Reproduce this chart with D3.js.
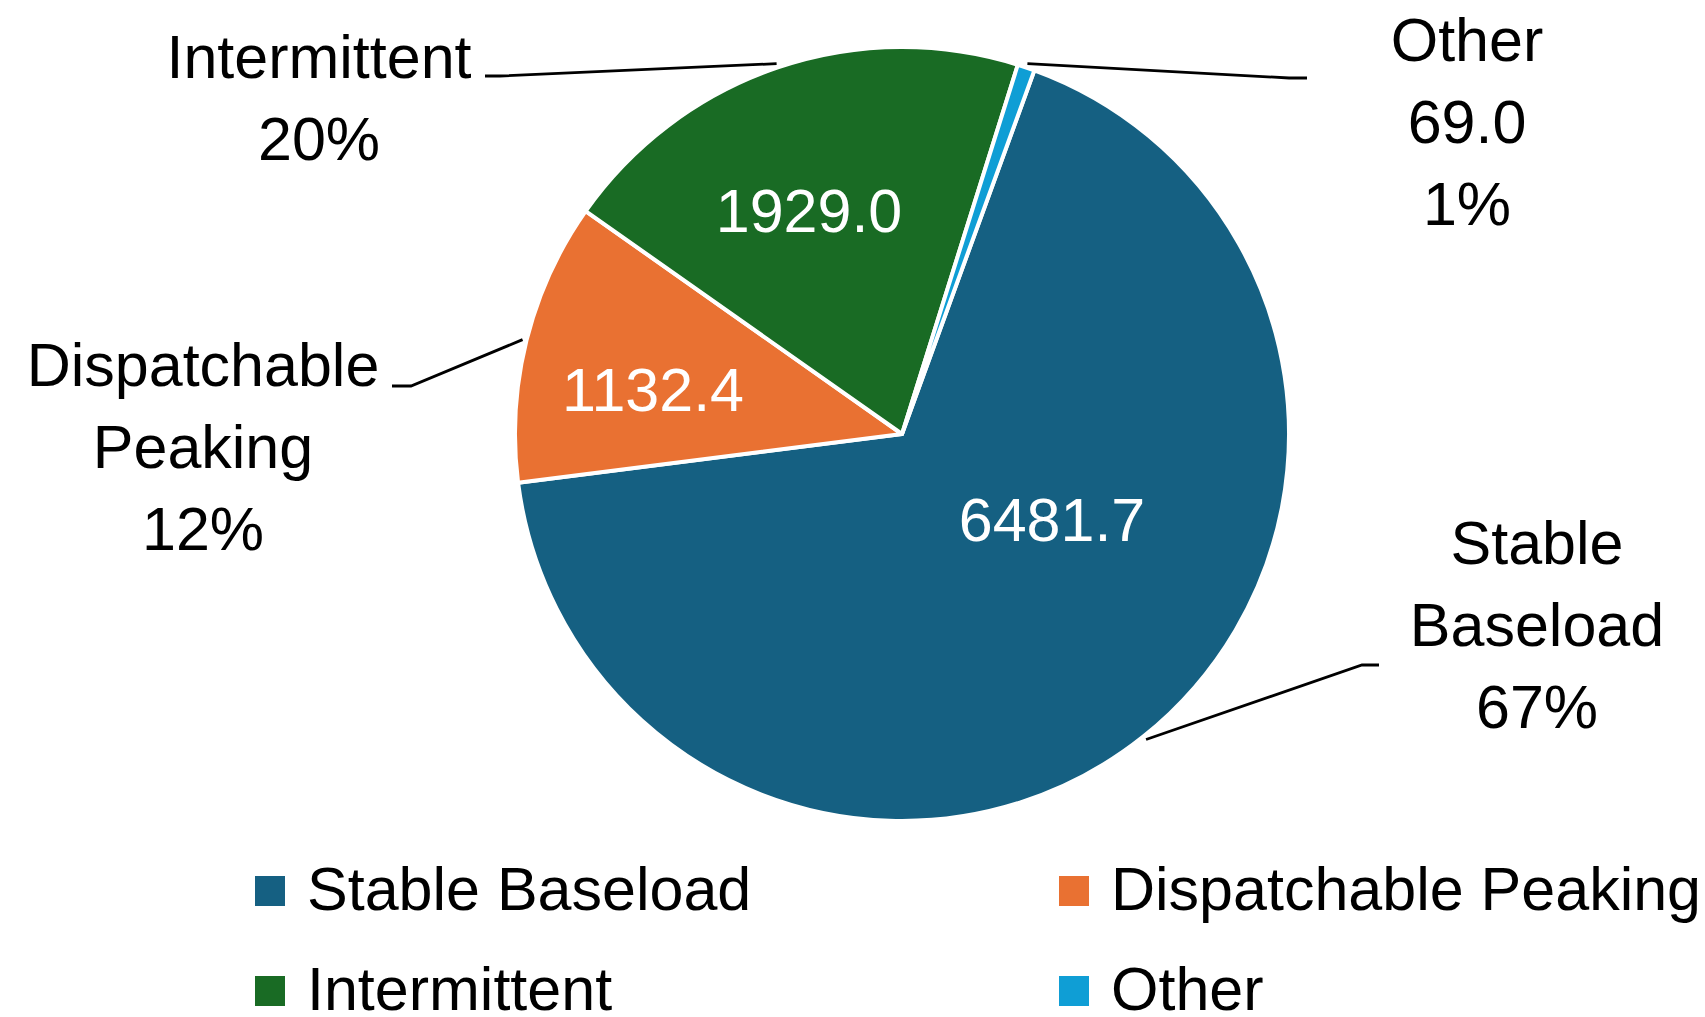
<!DOCTYPE html>
<html>
<head>
<meta charset="utf-8">
<script src="https://cdn.jsdelivr.net/npm/d3@7"></script>
<style>
  html, body { margin: 0; padding: 0; background: #ffffff; }
  svg { display: block; }
  text { font-family: "Liberation Sans", Arial, sans-serif; }
</style>
</head>
<body>
<svg id="chart" width="1705" height="1017"></svg>
<script>
// ---- data ----
const categories = ["Stable Baseload", "Dispatchable Peaking", "Intermittent", "Other"];
const values = [6481.7, 1132.4, 1929.0, 69.0];
const colors = ["#156082", "#E97132", "#196B24", "#0F9ED5"];
// category names as wrapped in the callouts
const calloutNames = [["Stable", "Baseload"], ["Dispatchable", "Peaking"], ["Intermittent"], ["Other"]];
// which slices carry their value in the callout instead of inside the slice
const valueInCallout = [false, false, false, true];

// ---- layout ----
const cx = 902, cy = 434, R = 387;
const firstSliceDeg = 20;
const fontSize = 61, lineGap = 82;
const callouts = [
  { x: 1537, y: 564, elbow: [1362, 665], end: [1379, 665] },
  { x: 203,  y: 386, elbow: [411, 386],  end: [392, 386] },
  { x: 319,  y: 78,  elbow: [500, 76],   end: [485, 76] },
  { x: 1467, y: 61,  elbow: [1289, 78],  end: [1307, 78] }
];
const insideOffsets = [[150, 86], [-249, -44], [-93, -223], null];
const legendCols = [255, 1059], legendRows = [876, 976], swatch = 30;

const svg = d3.select("#chart");
const total = d3.sum(values);
const pct = d3.format(".0%");
const num = d3.format(".1f");

const a0 = firstSliceDeg * Math.PI / 180;
const pie = d3.pie().sort(null).value(d => d).startAngle(a0).endAngle(a0 + 2 * Math.PI);
const arcs = pie(values);
const arc = d3.arc().innerRadius(0).outerRadius(R);

const g = svg.append("g").attr("transform", `translate(${cx},${cy})`);
g.selectAll("path.slice")
  .data(arcs)
  .join("path")
  .attr("class", "slice")
  .attr("d", arc)
  .attr("fill", (d, i) => colors[i])
  .attr("stroke", "#ffffff")
  .attr("stroke-width", 4)
  .attr("stroke-linejoin", "round");

// values inside slices
g.selectAll("text.inside")
  .data(arcs.filter((d, i) => !valueInCallout[i]))
  .join("text")
  .attr("class", "inside")
  .attr("x", d => insideOffsets[d.index][0])
  .attr("y", d => insideOffsets[d.index][1])
  .attr("dy", "0.35em")
  .attr("text-anchor", "middle")
  .attr("fill", "#ffffff")
  .attr("font-size", fontSize)
  .text(d => num(d.value));

// leader lines from the slice mid-angle out to each callout
const leader = d3.line();
arcs.forEach((d, i) => {
  const mid = (d.startAngle + d.endAngle) / 2;
  const rr = R + 4;
  const p0 = [cx + rr * Math.sin(mid), cy - rr * Math.cos(mid)];
  const c = callouts[i];
  svg.append("path")
    .attr("d", leader([p0, c.elbow, c.end]))
    .attr("fill", "none")
    .attr("stroke", "#000000")
    .attr("stroke-width", 2.8);
});

// callout text
arcs.forEach((d, i) => {
  const lines = calloutNames[i].slice();
  if (valueInCallout[i]) lines.push(num(d.value));
  lines.push(pct(d.value / total));
  const t = svg.append("text")
    .attr("text-anchor", "middle")
    .attr("font-size", fontSize)
    .attr("fill", "#000000");
  lines.forEach((s, k) => {
    t.append("tspan")
      .attr("x", callouts[i].x)
      .attr("y", callouts[i].y + k * lineGap)
      .text(s);
  });
});

// legend (two columns, row-major)
const leg = svg.append("g");
categories.forEach((name, i) => {
  const x = legendCols[i % 2], y = legendRows[Math.floor(i / 2)];
  leg.append("rect")
    .attr("x", x).attr("y", y)
    .attr("width", swatch).attr("height", swatch)
    .attr("fill", colors[i]);
  leg.append("text")
    .attr("x", x + 52)
    .attr("y", y + 34)
    .attr("font-size", fontSize)
    .attr("fill", "#000000")
    .text(name);
});
</script>
</body>
</html>
